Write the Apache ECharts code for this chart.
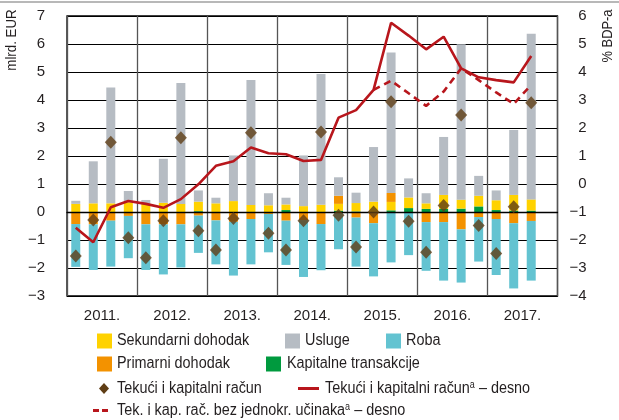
<!DOCTYPE html>
<html>
<head>
<meta charset="utf-8">
<script src="https://cdn.jsdelivr.net/npm/echarts@6/dist/echarts.min.js"></script>
<style>
  html, body { margin: 0; padding: 0; background: #fff; }
  #chart { width: 619px; height: 420px; }
</style>
</head>
<body>
<div id="chart"></div>
<script>
// Quarterly categories 2011–2017 and the year labels shown under each block of four
const quarters = [];
const years = ['2011.', '2012.', '2013.', '2014.', '2015.', '2016.', '2017.'];
for (let y = 2011; y <= 2017; y++) for (let q = 1; q <= 4; q++) quarters.push(y + ' Q' + q);

// Components, mlrd. EUR (left axis)
const kapitalne = [0, 0, 0, 0, 0, 0, 0, 0.03, 0, 0, 0, 0, 0.07, 0, 0, 0.05, 0.02, 0, 0.06, 0.14, 0.11, 0.11, 0.12, 0.20, 0.07, 0.05, 0.05, null];
const sekundarni = [0.29, 0.31, 0.31, 0.35, 0.29, 0.33, 0.29, 0.34, 0.31, 0.39, 0.25, 0.24, 0.20, 0.21, 0.26, 0.24, 0.30, 0.37, 0.30, 0.38, 0.20, 0.50, 0.32, 0.38, 0.35, 0.56, 0.40, null];
const primarni = [-0.43, -0.44, -0.31, -0.14, -0.44, -0.44, -0.44, -0.13, -0.30, -0.35, -0.25, -0.07, -0.31, -0.29, -0.43, 0.29, -0.20, -0.40, 0.32, 0, -0.36, -0.36, -0.62, -0.18, -0.25, -0.40, -0.32, null];
const usluge = [0.11, 1.50, 4.14, 0.40, 0.14, 1.57, 4.32, 0.40, 0.20, 1.63, 4.46, 0.43, 0.24, 1.81, 4.67, 0.66, 0.37, 1.95, 5.02, 0.68, 0.36, 2.07, 5.55, 0.71, 0.35, 2.32, 5.92, null];
const roba = [-1.53, -1.63, -1.64, -1.51, -1.63, -1.79, -1.54, -1.33, -1.57, -1.92, -1.62, -1.37, -1.58, -2.03, -1.65, -1.33, -1.75, -1.90, -1.80, -1.54, -1.74, -2.09, -1.90, -1.59, -2.00, -2.33, -2.13, null];
const racun = [-1.57, -0.29, 2.49, -0.92, -1.63, -0.31, 2.65, -0.67, -1.36, -0.23, 2.83, -0.76, -1.36, -0.31, 2.86, -0.12, -1.25, 0.00, 3.94, -0.33, -1.44, 0.23, 3.46, -0.48, -1.48, 0.19, 3.90, null];

// Current and capital account, % of GDP (right axis)
const racunBdp = [-1.56, -2.08, -0.83, -0.61, -0.71, -0.85, -0.54, -0.01, 0.65, 0.81, 1.30, 1.10, 1.06, 0.82, 0.86, 2.37, 2.64, 3.36, 5.76, 5.30, 4.81, 5.26, 4.13, 3.81, 3.71, 3.63, 4.57, null];
const bezJednokr = [null, null, null, null, null, null, null, null, null, null, null, null, null, null, null, null, null, 3.36, 3.69, 3.24, 2.79, 3.30, 4.13, 3.71, 3.27, 2.86, 3.54, null];

const leftTicks = [-3, 7];
const rightTicks = [-4, 6];

const FONT = "'Liberation Sans', Arial, sans-serif";
const NARROW = 0.9;            // horizontal squeeze for the condensed caption lettering
const TXT = '#231f20';
const C = {
  sek: '#ffd200', usl: '#b6bcc3', rob: '#63c3d1', pri: '#f39200', kap: '#009a3e',
  dia: '#5f3d15', red: '#b8161c'
};

const chart = echarts.init(document.getElementById('chart'), null, { renderer: 'canvas' });

const barBase = { type: 'bar', stack: 'tot', barWidth: 9, xAxisIndex: 0, yAxisIndex: 0 };

// Legend keys (icons only); captions are set beside them as condensed text
function leg(name, icon, color, left, top, w, h) {
  return {
    data: [{ name: name, icon: icon, itemStyle: { color: color, borderWidth: 0, opacity: 1 } }],
    left: left, top: top, itemWidth: w, itemHeight: h, symbolKeepAspect: false,
    formatter: () => '', selectedMode: false, padding: 0, itemGap: 0,
    textStyle: { fontSize: 1 }
  };
}
const DASH_ICON = 'path://M0,0h6v3h-6z M9,0h6v3h-6z';

const rich = {
  n: { font: '16px ' + FONT, fill: TXT },
  s: { font: '10px ' + FONT, fill: TXT, verticalAlign: 'top', padding: [0, 0, 6, 0] }
};
function caption(text, x, y) {
  return {
    type: 'text', x: x, y: y, scaleX: NARROW,
    style: { text: text, rich: rich, font: '16px ' + FONT, fill: TXT, textAlign: 'left', textVerticalAlign: 'middle' }
  };
}

chart.setOption({
  animation: false,
  textStyle: { fontFamily: FONT, color: TXT },
  grid: { left: 67, right: 61.5, top: 16, bottom: 124, show: true, borderColor: '#000', borderWidth: 1.3, backgroundColor: 'transparent' },
  xAxis: [
    {
      type: 'category', data: quarters, boundaryGap: true, z: 5,
      axisLine: { show: true, onZero: true, lineStyle: { color: '#000', width: 1.3 } },
      axisTick: { show: false }, axisLabel: { show: false }, splitLine: { show: false }
    },
    {
      type: 'category', data: years, boundaryGap: true, position: 'bottom',
      axisLine: { show: false, onZero: false }, axisTick: { show: false },
      axisLabel: { show: true, fontSize: 15, color: TXT, fontFamily: FONT, margin: 12 },
      splitLine: { show: true, lineStyle: { color: '#555', width: 1.3 } }
    }
  ],
  yAxis: [
    {
      type: 'value', min: leftTicks[0], max: leftTicks[1], interval: 1, position: 'left',
      axisLine: { show: false }, axisTick: { show: false },
      axisLabel: { fontSize: 15, color: TXT, fontFamily: FONT, margin: 22, formatter: v => String(v).replace('-', '\u2212') },
      splitLine: { show: true, lineStyle: { color: '#000', width: 1.1 } }
    },
    {
      type: 'value', min: rightTicks[0], max: rightTicks[1], interval: 1, position: 'right',
      axisLine: { show: false }, axisTick: { show: false },
      axisLabel: { fontSize: 15, color: TXT, fontFamily: FONT, margin: 29, align: 'right', formatter: v => String(v).replace('-', '\u2212') },
      splitLine: { show: false }
    }
  ],
  legend: [
    leg('Sekundarni dohodak', 'rect', C.sek, 97, 333.5, 15, 15),
    leg('Usluge', 'rect', C.usl, 285, 333.5, 15, 15),
    leg('Roba', 'rect', C.rob, 386, 333.5, 15, 15),
    leg('Primarni dohodak', 'rect', C.pri, 97, 356.5, 15, 15),
    leg('Kapitalne transakcije', 'rect', C.kap, 266, 356.5, 15, 15),
    leg('Tekući i kapitalni račun', 'diamond', C.dia, 99, 383, 10, 11),
    leg('Tekući i kapitalni račun – desno', 'rect', C.red, 298, 387, 21, 3),
    leg('Tek. i kap. rač. bez jednokr. učinaka – desno', DASH_ICON, C.red, 93, 409, 15, 3)
  ],
  graphic: [
    { type: 'line', shape: { x1: 0, y1: 2, x2: 619, y2: 2 }, style: { stroke: '#a0a0a0', lineWidth: 1.5 } },
    { type: 'text', x: 12, y: 40, rotation: Math.PI / 2, scaleX: 0.95, style: { text: 'mlrd. EUR', font: '14px ' + FONT, fill: TXT, textAlign: 'center', textVerticalAlign: 'middle' } },
    { type: 'text', x: 608, y: 36, rotation: Math.PI / 2, scaleX: 0.92, style: { text: '% BDP-a', font: '14px ' + FONT, fill: TXT, textAlign: 'center', textVerticalAlign: 'middle' } },
    caption('{n|Sekundarni dohodak}', 117, 341),
    caption('{n|Usluge}', 305, 341),
    caption('{n|Roba}', 406, 341),
    caption('{n|Primarni dohodak}', 117, 364),
    caption('{n|Kapitalne transakcije}', 287, 364),
    caption('{n|Tekući i kapitalni račun}', 117, 388.5),
    caption('{n|Tekući i kapitalni račun}{s|a}{n| – desno}', 325, 388.5),
    caption('{n|Tek. i kap. rač. bez jednokr. učinaka}{s|a}{n| – desno}', 117, 410.5)
  ],
  series: [
    Object.assign({ name: 'Kapitalne transakcije', data: kapitalne, itemStyle: { color: C.kap } }, barBase),
    Object.assign({ name: 'Sekundarni dohodak', data: sekundarni, itemStyle: { color: C.sek } }, barBase),
    Object.assign({ name: 'Primarni dohodak', data: primarni, itemStyle: { color: C.pri } }, barBase),
    Object.assign({ name: 'Usluge', data: usluge, itemStyle: { color: C.usl } }, barBase),
    Object.assign({ name: 'Roba', data: roba, itemStyle: { color: C.rob } }, barBase),
    {
      name: 'Tekući i kapitalni račun – desno', type: 'line', data: racunBdp, xAxisIndex: 0, yAxisIndex: 1,
      symbol: 'none', z: 6, lineStyle: { color: C.red, width: 2.6 }, itemStyle: { color: C.red }
    },
    {
      name: 'Tek. i kap. rač. bez jednokr. učinaka – desno', type: 'line', data: bezJednokr, xAxisIndex: 0, yAxisIndex: 1,
      symbol: 'none', z: 6, lineStyle: { color: C.red, width: 2.6, type: [7, 5] }, itemStyle: { color: C.red }
    },
    {
      name: 'Tekući i kapitalni račun', type: 'scatter', data: racun, xAxisIndex: 0, yAxisIndex: 0,
      symbol: 'diamond', symbolSize: [12, 13], z: 7, itemStyle: { color: C.dia }
    }
  ]
});
</script>
</body>
</html>
